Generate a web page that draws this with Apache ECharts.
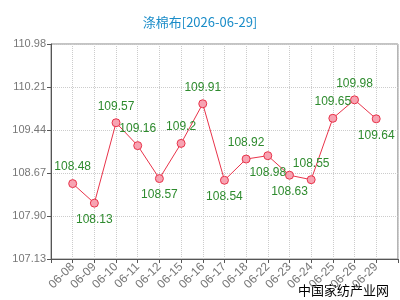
<!DOCTYPE html>
<html>
<head>
<meta charset="utf-8">
<script src="https://cdn.jsdelivr.net/npm/echarts@6/dist/echarts.min.js"></script>
<style>
  html, body { margin: 0; padding: 0; background: #fff; }
  #chart { width: 400px; height: 300px; }
</style>
</head>
<body>
<div id="chart"></div>
<script>
const dates = ['06-08', '06-09', '06-10', '06-11', '06-12', '06-15', '06-16', '06-17',
  '06-18', '06-22', '06-23', '06-24', '06-25', '06-26', '06-29'];
const prices = [108.48, 108.13, 109.57, 109.16, 108.57, 109.2, 109.91, 108.54,
  108.92, 108.98, 108.63, 108.55, 109.65, 109.98, 109.64];
// where each value label sits
const labelPos = ['top', 'bottom', 'top', 'top', 'bottom', 'top', 'top', 'bottom',
  'top', 'bottom', 'bottom', 'top', 'top', 'top', 'bottom'];

const Y_MIN = 107.13;
const Y_MAX = 110.98;
const Y_STEP = 0.77;

const AXIS = '#777';
const SPLIT = '#ccc';

const chart = echarts.init(document.getElementById('chart'));

chart.setOption({
  animation: false,
  title: {
    text: '涤棉布[2026-06-29]',
    left: 'center',
    top: 11,
    textStyle: { color: '#1a8cc8', fontSize: 13, fontWeight: 'normal', fontFamily: 'Noto Sans CJK SC' },
  },
  graphic: [
    {
      type: 'text',
      right: 11,
      bottom: 3,
      style: { text: '中国家纺产业网', fill: '#000', font: '13px "Noto Sans CJK SC"' },
    },
  ],
  grid: { left: 51, right: 1, top: 44, bottom: 41, show: true, borderColor: '#888', borderWidth: 1 },
  xAxis: {
    type: 'value',
    min: -1,
    max: dates.length,
    interval: 1,
    axisLine: { onZero: false, lineStyle: { color: '#555' } },
    axisTick: { length: 4, lineStyle: { color: '#555' } },
    axisLabel: {
      color: AXIS,
      fontSize: 12,
      fontFamily: 'Liberation Sans',
      rotate: 45,
      margin: 6,
      formatter: (v) => dates[v] || '',
    },
    splitLine: { show: true, lineStyle: { color: SPLIT, type: 'dotted' } },
  },
  yAxis: {
    type: 'value',
    min: Y_MIN,
    max: Y_MAX,
    interval: Y_STEP,
    axisLine: { show: true, onZero: false, lineStyle: { color: '#555' } },
    axisTick: { show: true, length: 4, lineStyle: { color: '#555' } },
    axisLabel: {
      color: AXIS,
      fontSize: 11,
      fontFamily: 'Liberation Sans',
      margin: 5,
      formatter: (v) => v.toFixed(2),
    },
    splitLine: { show: true, lineStyle: { color: SPLIT, type: 'dotted' } },
  },
  series: [
    {
      type: 'line',
      data: prices.map((p, i) => ({
        value: [i, p],
        label: { position: labelPos[i] },
      })),
      symbol: 'circle',
      symbolSize: 8,
      lineStyle: { color: '#e8334a', width: 1 },
      itemStyle: { color: '#f7a3b2', borderColor: '#e8334a', borderWidth: 1 },
      label: {
        show: true,
        color: '#2e8b2e',
        fontSize: 12,
        fontFamily: 'Liberation Sans',
        distance: 6,
        formatter: (p) => String(p.value[1]),
      },
    },
  ],
});
</script>
</body>
</html>
